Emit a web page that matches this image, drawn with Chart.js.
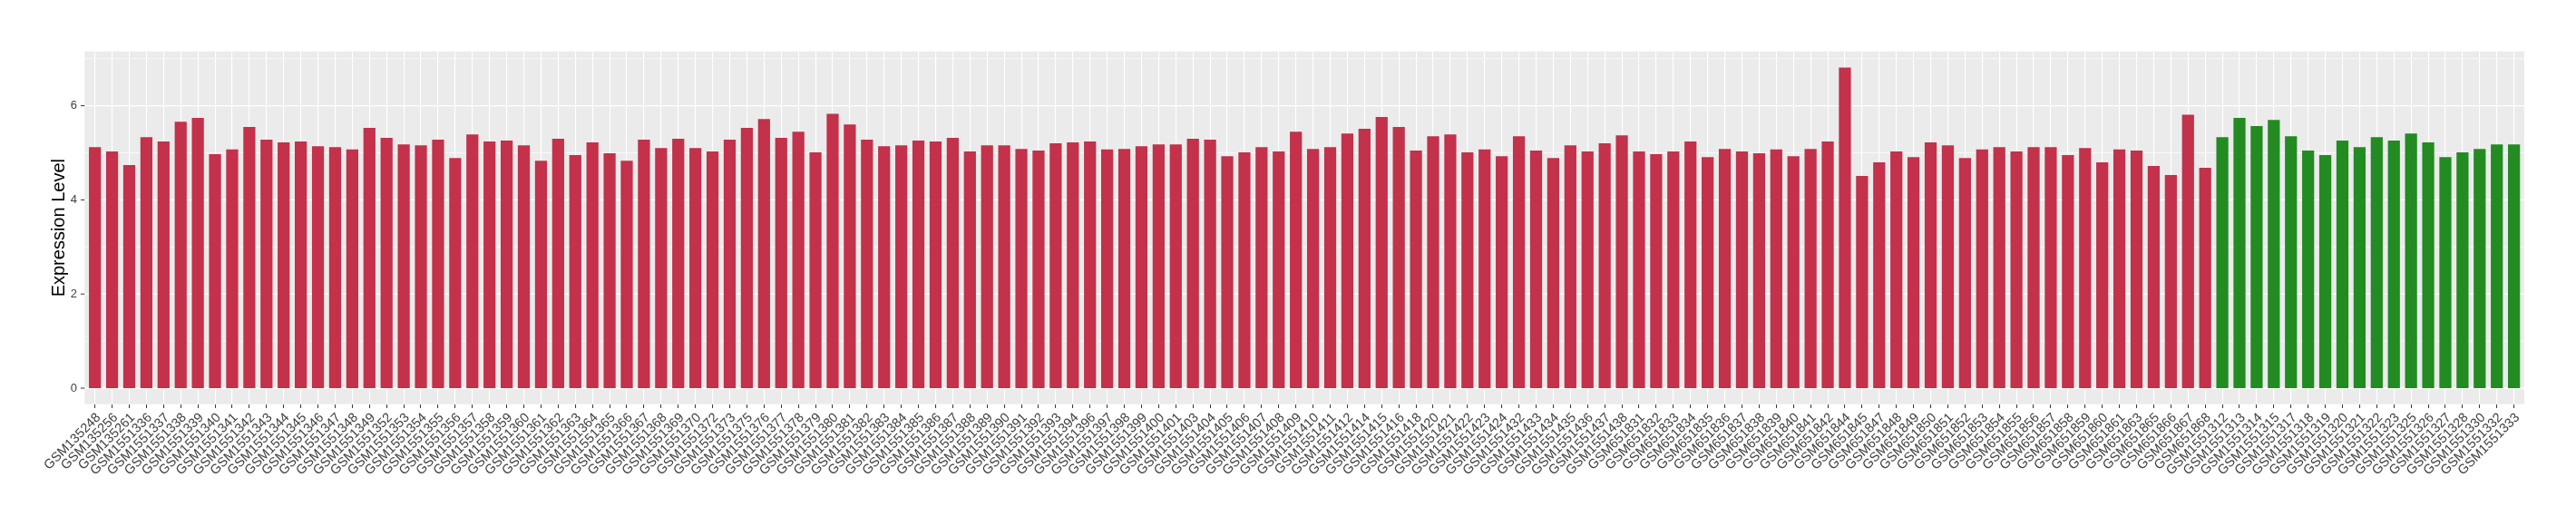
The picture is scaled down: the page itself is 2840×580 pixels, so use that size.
<!DOCTYPE html>
<html>
<head>
<meta charset="utf-8">
<title>Expression Level</title>
<script src="https://cdn.jsdelivr.net/npm/chart.js@4.4.1/dist/chart.umd.min.js"></script>
<style>
  html, body { margin: 0; padding: 0; background: #ffffff; }
  canvas { display: block; }
</style>
</head>
<body>
<canvas id="expr-chart" width="2840" height="580"></canvas>
<script>
  // ── Data ───────────────────────────────────────────────────────
  const redSamples = [
    'GSM135248', 'GSM135256', 'GSM135261', 'GSM1551336', 'GSM1551337', 'GSM1551338',
    'GSM1551339', 'GSM1551340', 'GSM1551341', 'GSM1551342', 'GSM1551343', 'GSM1551344',
    'GSM1551345', 'GSM1551346', 'GSM1551347', 'GSM1551348', 'GSM1551349', 'GSM1551352',
    'GSM1551353', 'GSM1551354', 'GSM1551355', 'GSM1551356', 'GSM1551357', 'GSM1551358',
    'GSM1551359', 'GSM1551360', 'GSM1551361', 'GSM1551362', 'GSM1551363', 'GSM1551364',
    'GSM1551365', 'GSM1551366', 'GSM1551367', 'GSM1551368', 'GSM1551369', 'GSM1551370',
    'GSM1551372', 'GSM1551373', 'GSM1551375', 'GSM1551376', 'GSM1551377', 'GSM1551378',
    'GSM1551379', 'GSM1551380', 'GSM1551381', 'GSM1551382', 'GSM1551383', 'GSM1551384',
    'GSM1551385', 'GSM1551386', 'GSM1551387', 'GSM1551388', 'GSM1551389', 'GSM1551390',
    'GSM1551391', 'GSM1551392', 'GSM1551393', 'GSM1551394', 'GSM1551396', 'GSM1551397',
    'GSM1551398', 'GSM1551399', 'GSM1551400', 'GSM1551401', 'GSM1551403', 'GSM1551404',
    'GSM1551405', 'GSM1551406', 'GSM1551407', 'GSM1551408', 'GSM1551409', 'GSM1551410',
    'GSM1551411', 'GSM1551412', 'GSM1551414', 'GSM1551415', 'GSM1551416', 'GSM1551418',
    'GSM1551420', 'GSM1551421', 'GSM1551422', 'GSM1551423', 'GSM1551424', 'GSM1551432',
    'GSM1551433', 'GSM1551434', 'GSM1551435', 'GSM1551436', 'GSM1551437', 'GSM1551438',
    'GSM651831', 'GSM651832', 'GSM651833', 'GSM651834', 'GSM651835', 'GSM651836',
    'GSM651837', 'GSM651838', 'GSM651839', 'GSM651840', 'GSM651841', 'GSM651842',
    'GSM651844', 'GSM651845', 'GSM651847', 'GSM651848', 'GSM651849', 'GSM651850',
    'GSM651851', 'GSM651852', 'GSM651853', 'GSM651854', 'GSM651855', 'GSM651856',
    'GSM651857', 'GSM651858', 'GSM651859', 'GSM651860', 'GSM651861', 'GSM651863',
    'GSM651865', 'GSM651866', 'GSM651867', 'GSM651868'
  ];
  const redLevels = [
    5.12, 5.03, 4.74, 5.33, 5.24, 5.66, 5.74, 4.97, 5.07, 5.55, 5.28, 5.22,
    5.24, 5.14, 5.12, 5.07, 5.53, 5.32, 5.18, 5.16, 5.28, 4.89, 5.39, 5.24,
    5.26, 5.16, 4.83, 5.30, 4.95, 5.22, 4.99, 4.83, 5.28, 5.10, 5.30, 5.10,
    5.03, 5.28, 5.53, 5.72, 5.32, 5.45, 5.01, 5.83, 5.60, 5.28, 5.14, 5.16,
    5.26, 5.24, 5.32, 5.03, 5.16, 5.16, 5.08, 5.05, 5.20, 5.22, 5.24, 5.07,
    5.08, 5.14, 5.18, 5.18, 5.30, 5.28, 4.93, 5.01, 5.12, 5.03, 5.45, 5.08,
    5.12, 5.41, 5.51, 5.76, 5.55, 5.05, 5.35, 5.39, 5.01, 5.07, 4.93, 5.35,
    5.05, 4.89, 5.16, 5.03, 5.20, 5.37, 5.03, 4.97, 5.03, 5.24, 4.91, 5.08,
    5.03, 4.99, 5.07, 4.93, 5.08, 5.24, 6.81, 4.51, 4.80, 5.03, 4.91, 5.22,
    5.16, 4.89, 5.07, 5.12, 5.03, 5.12, 5.12, 4.95, 5.10, 4.80, 5.07, 5.05,
    4.72, 4.53, 5.81, 4.68
  ];
  const greenSamples = [
    'GSM1551312', 'GSM1551313', 'GSM1551314', 'GSM1551315', 'GSM1551317', 'GSM1551318',
    'GSM1551319', 'GSM1551320', 'GSM1551321', 'GSM1551322', 'GSM1551323', 'GSM1551325',
    'GSM1551326', 'GSM1551327', 'GSM1551328', 'GSM1551330', 'GSM1551332', 'GSM1551333'
  ];
  const greenLevels = [
    5.33, 5.74, 5.57, 5.70, 5.35, 5.05, 4.95, 5.26, 5.12, 5.33, 5.26, 5.41,
    5.22, 4.91, 5.01, 5.08, 5.18, 5.18
  ];
  const yTicks = [0, 2, 4, 6];
  const yMinorTicks = [1, 3, 5, 7];

  // ── Styles ─────────────────────────────────────────────────────
  const RED = '#C3314A';
  const GREEN = '#228B22';
  const PANEL_BG = '#EBEBEB';
  const TEXT_GREY = '#404040';
  const TICK_GREY = '#333333';
  const FONT = "'Liberation Sans', Arial, Helvetica, sans-serif";

  const labels = redSamples.concat(greenSamples);
  const levels = redLevels.concat(greenLevels);
  const colors = redSamples.map(() => RED).concat(greenSamples.map(() => GREEN));

  // ggplot-like panel: grey background, white horizontal grid, y tick marks
  const panelPlugin = {
    id: 'ggPanel',
    beforeDraw(chart) {
      const { ctx, chartArea, scales } = chart;
      const step = (chartArea.right - chartArea.left) / labels.length;
      const left = chartArea.left - 0.1 * step;
      const right = chartArea.right + 0.1 * step;
      ctx.save();
      ctx.fillStyle = PANEL_BG;
      ctx.fillRect(left, chartArea.top, right - left, chartArea.bottom - chartArea.top);

      ctx.strokeStyle = '#FFFFFF';
      ctx.lineWidth = 0.7;
      yMinorTicks.forEach((v) => {
        const y = scales.y.getPixelForValue(v);
        ctx.beginPath();
        ctx.moveTo(left, y);
        ctx.lineTo(right, y);
        ctx.stroke();
      });
      ctx.lineWidth = 1.3;
      yTicks.forEach((v) => {
        const y = scales.y.getPixelForValue(v);
        ctx.beginPath();
        ctx.moveTo(left, y);
        ctx.lineTo(right, y);
        ctx.stroke();
      });

      // y tick marks
      ctx.strokeStyle = TICK_GREY;
      ctx.lineWidth = 1;
      yTicks.forEach((v) => {
        const y = scales.y.getPixelForValue(v);
        ctx.beginPath();
        ctx.moveTo(left - 4.3, y);
        ctx.lineTo(left, y);
        ctx.stroke();
      });
      ctx.restore();
    },
  };

  new Chart(document.getElementById('expr-chart'), {
    type: 'bar',
    data: {
      labels: labels,
      datasets: [{
        label: 'Expression Level',
        data: levels,
        backgroundColor: colors,
        borderWidth: 0,
        barPercentage: 0.7,
        categoryPercentage: 1.0,
      }],
    },
    options: {
      responsive: false,
      devicePixelRatio: 1,
      animation: false,
      layout: {
        padding: { top: 56.7, right: 58.9, bottom: 0, left: 0 },
      },
      plugins: {
        legend: { display: false },
        tooltip: { enabled: false },
      },
      scales: {
        x: {
          type: 'category',
          offset: true,
          grid: {
            offset: false,
            color: '#FFFFFF',
            lineWidth: 1.1,
            drawTicks: true,
            tickLength: 4.3,
            tickColor: TICK_GREY,
            tickWidth: 1,
          },
          border: { display: false },
          ticks: {
            autoSkip: false,
            minRotation: 45,
            maxRotation: 45,
            padding: 2,
            labelOffset: 4,
            color: TEXT_GREY,
            font: { family: FONT, size: 14.5 },
          },
          afterFit(scale) {
            scale.height = 134.3;
          },
        },
        y: {
          min: -0.341,
          max: 7.154,
          grid: { display: false, drawTicks: false },
          border: { display: false },
          afterBuildTicks(scale) {
            scale.ticks = yTicks.map((v) => ({ value: v }));
          },
          ticks: {
            padding: 10.2,
            color: TEXT_GREY,
            font: { family: FONT, size: 13 },
          },
          title: {
            display: true,
            text: 'Expression Level',
            color: '#000000',
            font: { family: FONT, size: 20, lineHeight: 1.2 },
            padding: { top: 53, bottom: 0 },
          },
          afterFit(scale) {
            scale.width = 95.2;
          },
        },
      },
    },
    plugins: [panelPlugin],
  });
</script>
</body>
</html>
